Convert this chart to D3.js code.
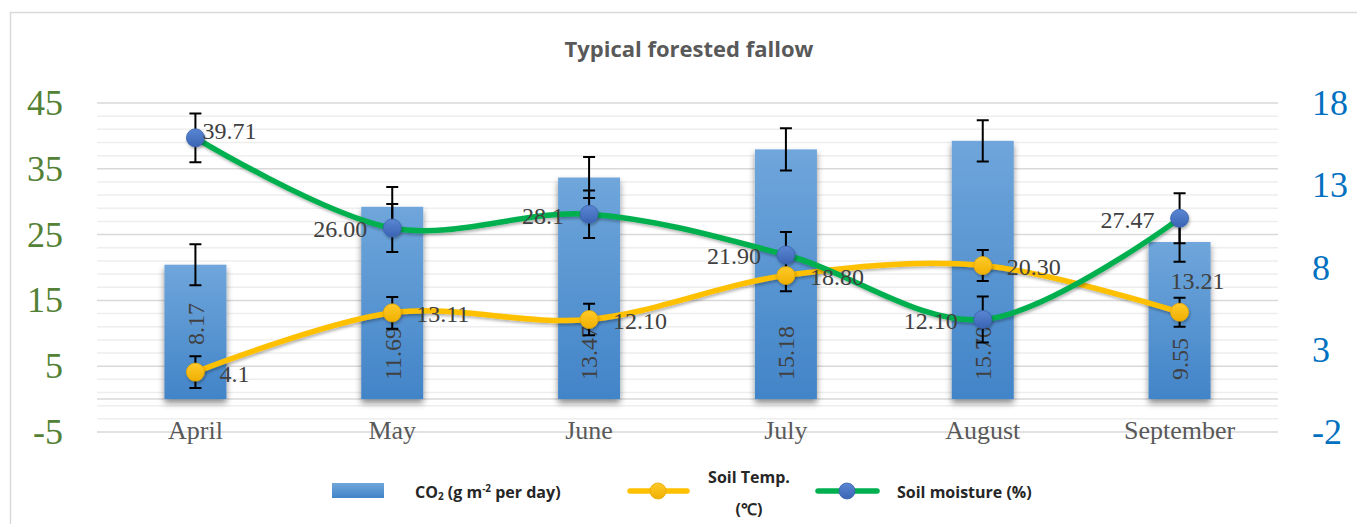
<!DOCTYPE html>
<html>
<head>
<meta charset="utf-8">
<script src="https://cdn.jsdelivr.net/npm/d3@7/dist/d3.min.js"></script>
<style>
  body { margin: 0; background: #fff; }
</style>
</head>
<body>
<div id="chart"></div>
<script>
var months = ["April", "May", "June", "July", "August", "September"];

// CO2 flux, read on the right axis
var co2 = [8.17, 11.69, 13.47, 15.18, 15.70, 9.55];
var co2Err = [1.25, 1.2, 1.25, 1.28, 1.25, 1.2];

// soil temperature and moisture, read on the left axis
var soilTemp = [4.1, 13.11, 12.10, 18.80, 20.30, 13.21];
var tempErr = [2.4, 2.4, 2.4, 2.4, 2.35, 2.2];
var tempLabels = ["4.1", "13.11", "12.10", "18.80", "20.30", "13.21"];

var moisture = [39.71, 26.00, 28.10, 21.90, 12.10, 27.47];
var moistErr = [3.7, 3.65, 3.6, 3.5, 3.5, 3.8];
var moistLabels = ["39.71", "26.00", "28.1", "21.90", "12.10", "27.47"];

var leftTicks = [-5, 5, 15, 25, 35, 45];
var rightTicks = [-2, 3, 8, 13, 18];

var W = 1357, H = 524;
var plot = {left: 97, right: 1278, top: 103, bottom: 432};

var svg = d3.select("#chart")
  .append("svg")
    .attr("width", W)
    .attr("height", H);

var defs = svg.append("defs");

var grad = defs.append("linearGradient")
    .attr("id", "barGrad")
    .attr("x1", 0).attr("y1", 0).attr("x2", 0).attr("y2", 1);
grad.append("stop").attr("offset", "0%").attr("stop-color", "#6fa6db");
grad.append("stop").attr("offset", "100%").attr("stop-color", "#4284c8");

var blueGrad = defs.append("linearGradient")
    .attr("id", "blueGrad")
    .attr("x1", 0).attr("y1", 0).attr("x2", 0).attr("y2", 1);
blueGrad.append("stop").attr("offset", "0%").attr("stop-color", "#5a86d3");
blueGrad.append("stop").attr("offset", "100%").attr("stop-color", "#3a64b4");

var yelGrad = defs.append("linearGradient")
    .attr("id", "yelGrad")
    .attr("x1", 0).attr("y1", 0).attr("x2", 0).attr("y2", 1);
yelGrad.append("stop").attr("offset", "0%").attr("stop-color", "#ffca2a");
yelGrad.append("stop").attr("offset", "100%").attr("stop-color", "#f0b000");

var shadow = defs.append("filter")
    .attr("id", "shadow")
    .attr("x", "-30%").attr("y", "-30%")
    .attr("width", "160%").attr("height", "160%");
shadow.append("feDropShadow")
    .attr("dx", 0).attr("dy", 4)
    .attr("stdDeviation", 3)
    .attr("flood-color", "#000")
    .attr("flood-opacity", 0.45);

var softShadow = defs.append("filter")
    .attr("id", "softShadow")
    .attr("x", "-30%").attr("y", "-30%")
    .attr("width", "160%").attr("height", "160%");
softShadow.append("feDropShadow")
    .attr("dx", 1).attr("dy", 2)
    .attr("stdDeviation", 1.5)
    .attr("flood-color", "#000")
    .attr("flood-opacity", 0.3);

// chart frame
svg.append("rect")
    .attr("x", 10.5).attr("y", 12.5)
    .attr("width", 1400).attr("height", 600)
    .attr("fill", "none")
    .attr("stroke", "#d9d9d9")
    .attr("stroke-width", 1.5);

svg.append("text")
    .attr("x", 689)
    .attr("y", 57)
    .attr("text-anchor", "middle")
    .style("font-family", "'Open Sans', sans-serif")
    .style("font-weight", 700)
    .style("font-size", "22px")
    .style("fill", "#595959")
    .text("Typical forested fallow");

var x = d3.scaleBand()
  .domain(months)
  .range([plot.left, plot.right]);

var yL = d3.scaleLinear()
  .domain([-5, 45])
  .range([plot.bottom, plot.top]);

var yR = d3.scaleLinear()
  .domain([-2, 18])
  .range([plot.bottom, plot.top]);

function cx(d) { return x(d) + x.bandwidth() / 2; }
function plain(d) { return String(d); }

// gridlines
var minor = d3.range(-5, 46, 2).filter(function(v) { return leftTicks.indexOf(v) < 0; });

svg.append("g")
  .selectAll("line")
  .data(minor)
  .enter()
  .append("line")
    .attr("x1", plot.left).attr("x2", plot.right)
    .attr("y1", function(d) { return yL(d); })
    .attr("y2", function(d) { return yL(d); })
    .attr("stroke", "#eeeeee")
    .attr("stroke-width", 1.5);

svg.append("g")
  .selectAll("line")
  .data(leftTicks)
  .enter()
  .append("line")
    .attr("x1", plot.left).attr("x2", plot.right)
    .attr("y1", function(d) { return yL(d); })
    .attr("y2", function(d) { return yL(d); })
    .attr("stroke", "#d9d9d9")
    .attr("stroke-width", 1.5);

// horizontal axis line at zero
svg.append("line")
    .attr("x1", plot.left).attr("x2", plot.right)
    .attr("y1", yR(0)).attr("y2", yR(0))
    .attr("stroke", "#d9d9d9")
    .attr("stroke-width", 1.5);

// axes
var leftAxis = svg.append("g")
    .attr("transform", "translate(" + plot.left + ",0)")
    .call(d3.axisLeft(yL).tickValues(leftTicks).tickFormat(plain).tickSize(0).tickPadding(34));
leftAxis.select(".domain").remove();
leftAxis.selectAll("text")
    .style("font-family", "'Liberation Serif', 'Times New Roman', serif")
    .style("font-size", "36px")
    .style("fill", "#538135");

var rightAxis = svg.append("g")
    .attr("transform", "translate(" + plot.right + ",0)")
    .call(d3.axisRight(yR).tickValues(rightTicks).tickFormat(plain).tickSize(0).tickPadding(34));
rightAxis.select(".domain").remove();
rightAxis.selectAll("text")
    .style("font-family", "'Liberation Serif', 'Times New Roman', serif")
    .style("font-size", "36px")
    .style("fill", "#0070c0");

var xAxis = svg.append("g")
    .attr("transform", "translate(0," + plot.bottom + ")")
    .call(d3.axisBottom(x).tickSize(0));
xAxis.select(".domain").remove();
xAxis.selectAll("text")
    .attr("y", 7)
    .attr("dy", 0)
    .style("font-family", "'Liberation Serif', 'Times New Roman', serif")
    .style("font-size", "26px")
    .style("fill", "#595959");

// bars
var bw = x.bandwidth() * 0.315;

svg.append("g")
  .selectAll("rect")
  .data(co2)
  .enter()
  .append("rect")
    .attr("x", function(d, i) { return cx(months[i]) - bw / 2; })
    .attr("y", function(d) { return yR(d); })
    .attr("width", bw)
    .attr("height", function(d) { return yR(0) - yR(d); })
    .attr("fill", "url(#barGrad)")
    .attr("filter", "url(#shadow)");

function errorBars(vals, errs, scale) {
  svg.append("g")
    .selectAll("path")
    .data(vals)
    .enter()
    .append("path")
      .attr("d", function(d, i) {
        var px = cx(months[i]), lo = scale(d - errs[i]), hi = scale(d + errs[i]);
        return "M" + px + "," + hi + "V" + lo +
               "M" + (px - 6) + "," + hi + "H" + (px + 6) +
               "M" + (px - 6) + "," + lo + "H" + (px + 6);
      })
      .attr("fill", "none")
      .attr("stroke", "#000")
      .attr("stroke-width", 2);
}

errorBars(co2, co2Err, yR);

// bar labels, rotated
svg.append("g")
  .selectAll("text")
  .data(co2)
  .enter()
  .append("text")
    .attr("transform", function(d, i) {
      var start = i == 0 ? 345 : yR(0) - 19;
      return "translate(" + cx(months[i]) + "," + start + ") rotate(-90)";
    })
    .attr("dy", "0.35em")
    .attr("text-anchor", "start")
    .style("font-family", "'Liberation Serif', 'Times New Roman', serif")
    .style("font-size", "24px")
    .style("fill", "#404040")
    .text(function(d) { return d3.format(".2f")(d); });

// lines
var line = d3.line()
  .x(function(d, i) { return cx(months[i]); })
  .y(function(d) { return yL(d); })
  .curve(d3.curveCatmullRom.alpha(0.5));

svg.append("path")
    .datum(soilTemp)
    .attr("fill", "none")
    .attr("stroke", "#ffc000")
    .attr("stroke-width", 5.5)
    .attr("stroke-linecap", "round")
    .attr("filter", "url(#softShadow)")
    .attr("d", line);

svg.append("path")
    .datum(moisture)
    .attr("fill", "none")
    .attr("stroke", "#00b050")
    .attr("stroke-width", 5.5)
    .attr("stroke-linecap", "round")
    .attr("filter", "url(#softShadow)")
    .attr("d", line);

errorBars(soilTemp, tempErr, yL);
errorBars(moisture, moistErr, yL);

function markers(vals, fill, stroke) {
  svg.append("g")
    .selectAll("circle")
    .data(vals)
    .enter()
    .append("circle")
      .attr("cx", function(d, i) { return cx(months[i]); })
      .attr("cy", function(d) { return yL(d); })
      .attr("r", 9)
      .attr("fill", fill)
      .attr("stroke", stroke)
      .attr("stroke-width", 0.8)
      .attr("filter", "url(#softShadow)");
}

markers(soilTemp, "url(#yelGrad)", "#e8a800");
markers(moisture, "url(#blueGrad)", "#3a62ad");

var labelFont = "'Liberation Serif', 'Times New Roman', serif";

svg.append("g")
  .selectAll("text")
  .data(soilTemp)
  .enter()
  .append("text")
    .attr("x", function(d, i) { return cx(months[i]) + (i == 5 ? -9 : 24); })
    .attr("y", function(d, i) { return yL(d) + (i == 5 ? -32 : 1); })
    .attr("dy", "0.35em")
    .attr("text-anchor", "start")
    .style("font-family", labelFont)
    .style("font-size", "24px")
    .style("fill", "#404040")
    .text(function(d, i) { return tempLabels[i]; });

svg.append("g")
  .selectAll("text")
  .data(moisture)
  .enter()
  .append("text")
    .attr("x", function(d, i) { return cx(months[i]) + (i == 0 ? 7 : -25); })
    .attr("y", function(d, i) { return yL(d) + (i == 0 ? -7 : 1); })
    .attr("dy", "0.35em")
    .attr("text-anchor", function(d, i) { return i == 0 ? "start" : "end"; })
    .style("font-family", labelFont)
    .style("font-size", "24px")
    .style("fill", "#404040")
    .text(function(d, i) { return moistLabels[i]; });

// legend
var legend = svg.append("g")
    .style("font-family", "'Open Sans', sans-serif")
    .style("font-weight", 700)
    .style("font-size", "16px")
    .style("fill", "#262626");

legend.append("rect")
    .attr("x", 332).attr("y", 483)
    .attr("width", 52).attr("height", 15)
    .attr("fill", "url(#barGrad)");

var co2Text = legend.append("text")
    .attr("x", 415).attr("y", 498);
co2Text.append("tspan").text("CO");
co2Text.append("tspan").attr("dy", 2).style("font-size", "10px").text("2");
co2Text.append("tspan").attr("dy", -2).text(" (g m");
co2Text.append("tspan").attr("dy", -6).style("font-size", "10px").text("-2");
co2Text.append("tspan").attr("dy", 6).text(" per day)");

legend.append("line")
    .attr("x1", 630).attr("x2", 687)
    .attr("y1", 491).attr("y2", 491)
    .attr("stroke", "#ffc000")
    .attr("stroke-width", 5.5)
    .attr("stroke-linecap", "round");
legend.append("circle")
    .attr("cx", 658).attr("cy", 491).attr("r", 8)
    .attr("fill", "url(#yelGrad)")
    .attr("stroke", "#e8a800")
    .attr("stroke-width", 0.8);

legend.append("text")
    .attr("x", 749).attr("y", 483)
    .attr("text-anchor", "middle")
    .text("Soil Temp.");
legend.append("text")
    .attr("x", 749).attr("y", 515)
    .attr("text-anchor", "middle")
    .text("(℃)");

legend.append("line")
    .attr("x1", 818).attr("x2", 877)
    .attr("y1", 491).attr("y2", 491)
    .attr("stroke", "#00b050")
    .attr("stroke-width", 5.5)
    .attr("stroke-linecap", "round");
legend.append("circle")
    .attr("cx", 847).attr("cy", 491).attr("r", 8)
    .attr("fill", "url(#blueGrad)")
    .attr("stroke", "#3a62ad")
    .attr("stroke-width", 0.8);

legend.append("text")
    .attr("x", 897).attr("y", 498)
    .text("Soil moisture (%)");
</script>
</body>
</html>
